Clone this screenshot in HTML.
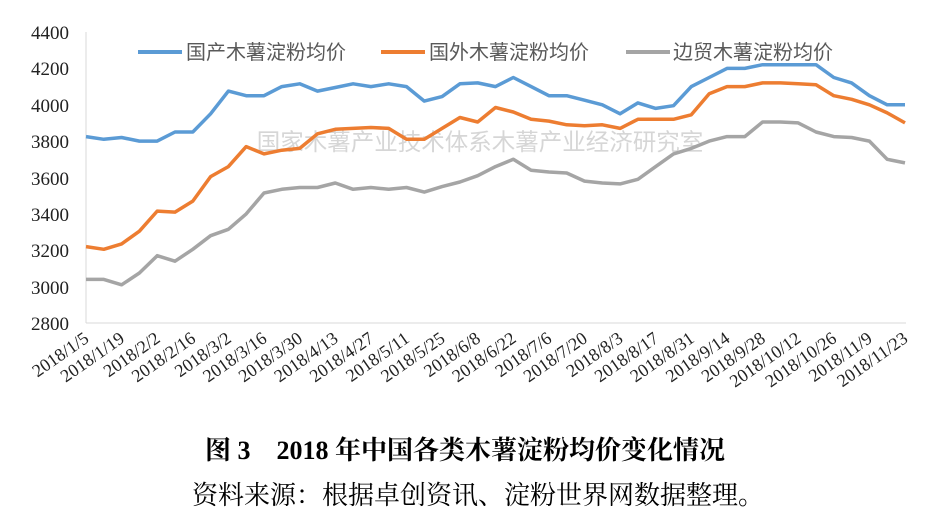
<!DOCTYPE html>
<html><head><meta charset="utf-8"><style>
body{margin:0;background:#fff;}
svg{display:block}
</style></head><body>
<svg width="931" height="524" xmlns="http://www.w3.org/2000/svg">
<g font-family="Liberation Serif, serif" font-size="19" fill="#222" text-anchor="end">
<text x="69" y="39">4400</text><text x="69" y="75">4200</text><text x="69" y="112">4000</text>
<text x="69" y="148">3800</text><text x="69" y="185">3600</text><text x="69" y="221">3400</text>
<text x="69" y="257">3200</text><text x="69" y="294">3000</text><text x="69" y="330">2800</text>
</g>
<line x1="86" y1="32" x2="86" y2="323" stroke="#d9d9d9" stroke-width="1"/>
<line x1="86" y1="323" x2="906" y2="323" stroke="#d9d9d9" stroke-width="1"/>
<text x="480" y="150" font-family="Liberation Sans, Noto Sans CJK SC, sans-serif" font-size="23.5" fill="#d6d6d6" text-anchor="middle">国家木薯产业技术体系木薯产业经济研究室</text>
<g id="lines" fill="none" stroke-width="3.5" stroke-linejoin="round"></g>
<g font-family="Liberation Sans, Noto Sans CJK SC, sans-serif" font-size="20" fill="#595959">
<line x1="138" y1="52" x2="182" y2="52" stroke="#5b9bd5" stroke-width="4"/><text x="186" y="59">国产木薯淀粉均价</text>
<line x1="381" y1="52" x2="425" y2="52" stroke="#ed7d31" stroke-width="4"/><text x="429" y="59">国外木薯淀粉均价</text>
<line x1="626" y1="52" x2="670" y2="52" stroke="#a5a5a5" stroke-width="4"/><text x="673" y="59">边贸木薯淀粉均价</text>
</g>
<g id="xl" font-family="Liberation Serif, serif" font-size="18" fill="#222" text-anchor="end"></g>
<text x="465" y="459" font-family="Liberation Serif, Noto Serif CJK SC, serif" font-weight="bold" font-size="26" fill="#000" text-anchor="middle">图 3　2018 年中国各类木薯淀粉均价变化情况</text>
<text x="478" y="504" font-family="Liberation Serif, Noto Serif CJK SC, serif" font-size="26" fill="#000" text-anchor="middle">资料来源：根据卓创资讯、淀粉世界网数据整理。</text>
</svg>
<script>
var b=[3825,3810,3820,3800,3800,3850,3850,3950,4075,4050,4050,4100,4115,4075,4095,4115,4100,4115,4100,4020,4045,4115,4120,4100,4150,4100,4050,4050,4025,4000,3950,4010,3980,3995,4100,4150,4200,4200,4220,4220,4220,4220,4150,4120,4050,4000,4000];
var o=[3220,3205,3235,3305,3415,3410,3470,3605,3660,3770,3730,3750,3760,3840,3865,3870,3875,3870,3810,3810,3870,3930,3905,3985,3960,3920,3910,3890,3885,3890,3870,3920,3920,3920,3945,4060,4100,4100,4120,4120,4115,4110,4050,4030,4000,3955,3900];
var g=[3040,3040,3010,3075,3170,3140,3205,3280,3315,3400,3515,3535,3545,3545,3570,3535,3545,3535,3545,3520,3550,3575,3610,3660,3700,3640,3630,3625,3580,3570,3565,3590,3660,3730,3760,3800,3825,3825,3905,3905,3900,3850,3825,3820,3800,3700,3680];
var NS="http://www.w3.org/2000/svg",L=document.getElementById("lines");
function X(i){return 86+i*819/46}function Y(v){return 323-(v-2800)*36.375/200}
[[g,"#a5a5a5"],[o,"#ed7d31"],[b,"#5b9bd5"]].forEach(function(s){var p=document.createElementNS(NS,"polyline");p.setAttribute("points",s[0].map(function(v,i){return X(i).toFixed(1)+","+Y(v).toFixed(1)}).join(" "));p.setAttribute("stroke",s[1]);L.appendChild(p);});
var xl=document.getElementById("xl"),d=new Date(2018,0,5);
for(var i=0;i<47;i+=2){var dd=new Date(d.getTime()+i*7*864e5);var t=document.createElementNS(NS,"text");var x=X(i)+4,y=341;t.setAttribute("x",x);t.setAttribute("y",y);t.setAttribute("transform","rotate(-35 "+x+" "+y+")");t.textContent="2018/"+(dd.getMonth()+1)+"/"+dd.getDate();xl.appendChild(t);}
</script>
</body></html>
